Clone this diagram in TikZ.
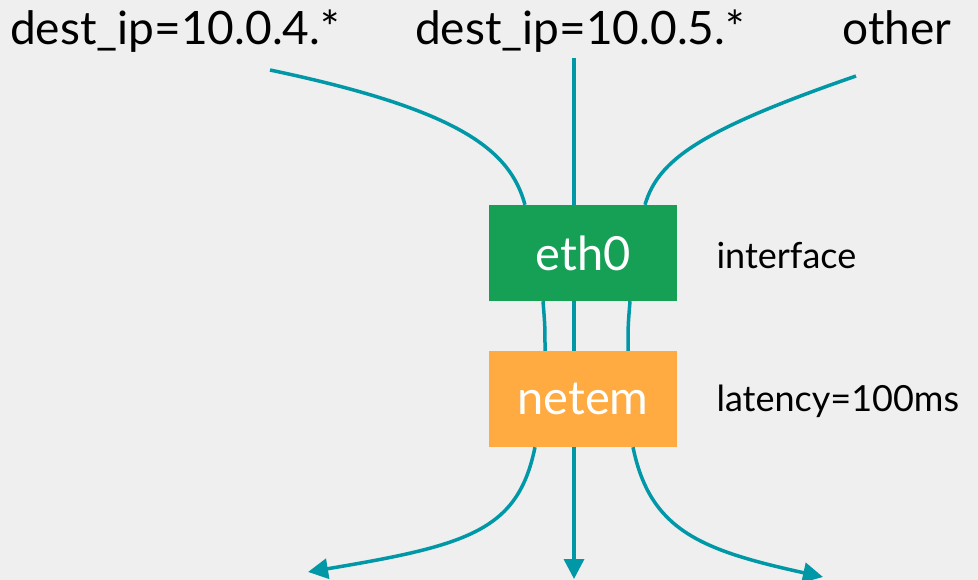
\documentclass[tikz,border=0pt]{standalone}
\usepackage{fontspec}
\setmainfont{Lato}
\usetikzlibrary{arrows.meta,calc}
\definecolor{bgcol}{HTML}{EFEFEF}
\definecolor{flow}{HTML}{0097A7}
\definecolor{ifgreen}{HTML}{16A056}
\definecolor{qorange}{HTML}{FFAB42}
\tikzset{
  box/.style={rectangle, inner sep=0pt, minimum width=188pt, minimum height=96pt,
              text=white, font=\fontsize{47}{54}\selectfont},
  toplabel/.style={anchor=base, font=\fontsize{46}{54}\selectfont, text=black},
  sidelabel/.style={anchor=west, font=\fontsize{36}{42}\selectfont, text=black},
  flowline/.style={draw=flow, line width=3.5pt},
  flowarrow/.style={flowline, -{Triangle[length=20pt,width=20pt]}},
}
\begin{document}
\begin{tikzpicture}[x=1pt,y=-1pt]
  \fill[bgcol] (0,0) rectangle (978,580);
  \useasboundingbox (0,0) rectangle (978,580);

  % boxes
  \node[box, fill=ifgreen] (eth) at (583,253) {eth0};
  \node[box, fill=qorange] (netem) at (583,399) {netem};

  % labels
  \node[toplabel] (l4) at (175,45) {dest\_ip=10.0.4.*};
  \node[toplabel] (l5) at (580,45) {dest\_ip=10.0.5.*};
  \node[toplabel] (lo) at (897,45) {other};
  \node[sidelabel] (ifl) at (713,256) {interface};
  \node[sidelabel] (lat) at (713,401) {latency=100ms};

  % free ends
  \coordinate (inA) at (270,70);
  \coordinate (inB) at (574,58);
  \coordinate (inC) at (856,76);
  \coordinate (outA) at (308,572);
  \coordinate (outB) at (574,579);
  \coordinate (outC) at (823,577);

  % incoming flows
  \draw[flowline] (inA) .. controls (460,110) and (510,150) .. ($(eth.north)+(-58,0)$);
  \draw[flowline] (inB) -- ($(eth.north)+(-9,0)$);
  \draw[flowline] (inC) .. controls (700,130) and (658,160) .. ($(eth.north)+(62,0)$);

  % between interface and qdisc
  \draw[flowline] ($(eth.south)+(-40,0)$) .. controls ($(eth.south)+(-38,25)$) .. ($(netem.north)+(-38,0)$);
  \draw[flowline] ($(eth.south)+(-9,0)$) -- ($(netem.north)+(-9,0)$);
  \draw[flowline] ($(eth.south)+(47,0)$) .. controls ($(eth.south)+(45,25)$) .. ($(netem.north)+(45,0)$);

  % outgoing flows
  \draw[flowarrow] ($(netem.south)+(-48,0)$) .. controls (518,530) and (470,545) .. (outA);
  \draw[flowarrow] ($(netem.south)+(-9,0)$) -- (outB);
  \draw[flowarrow] ($(netem.south)+(50,0)$) .. controls (650,530) and (700,550) .. (outC);
\end{tikzpicture}
\end{document}
